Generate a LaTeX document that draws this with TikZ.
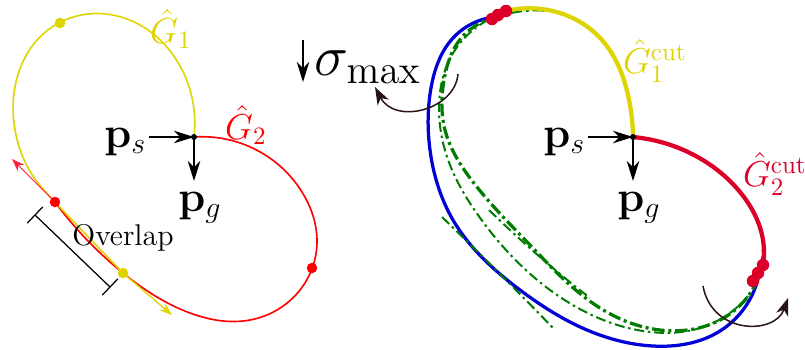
\RequirePackage{fix-cm}
\documentclass[tikz,border=0pt]{standalone}
\usetikzlibrary{arrows.meta,calc,hobby}
\definecolor{ylw}{RGB}{222,212,0}
\definecolor{rdl}{RGB}{255,0,0}
\definecolor{rdp}{RGB}{255,30,60}
\definecolor{crim}{RGB}{220,0,40}
\definecolor{blu}{RGB}{0,0,215}
\definecolor{grn}{RGB}{0,125,0}
\definecolor{drk}{RGB}{40,20,20}
\begin{document}
\begin{tikzpicture}[x=0.4pt,y=-0.4pt, use Hobby shortcut,
  arr/.style={-{Stealth[length=8pt,width=5pt,inset=2.5pt]}, line width=0.5pt},
  tharr/.style={-{Stealth[length=5pt,width=3.5pt,inset=1.5pt]}, line width=0.4pt},
  rotarr/.style={drk, line width=0.6pt, -{Stealth[length=7pt,width=5pt,inset=2pt]}},
  thin curve/.style={line width=0.65pt},
  thick curve/.style={line width=1.7pt},
  gthick/.style={grn, line width=1.3pt, dash pattern=on 5pt off 1.5pt on 1.2pt off 1.5pt},
  gthin/.style={grn, line width=0.8pt, dash pattern=on 4pt off 1.5pt on 1pt off 1.5pt},
  lab/.style={inner sep=0pt}]
\useasboundingbox (0,0) rectangle (805,349);

% ---------------- left figure ----------------
\coordinate (jL) at (194,137);
\coordinate (ovA) at (55,202);
\coordinate (ovB) at (123,273);
\coordinate (redTip) at (12,159);
\coordinate (ylwTip) at (172,315);

\draw[rdl, thin curve] (194,137) .. (262,153) .. (302,192) .. (317,242) .. (300,290) .. (250,320) .. (190,313) .. (123,273) .. (55,202);
\draw[ylw, thin curve] (194,137) .. (185,76) .. (140,25) .. (88,14) .. (42,35) .. (16,82) .. (16,135) .. (33,176) .. (55,202) .. (123,273);
\draw[rdp, tharr] (ovA) -- (redTip);
\draw[ylw, tharr, line width=0.55pt] (ovB) -- (ylwTip);

\fill[ylw] (60,23) circle (2.1pt);
\fill[rdl] (ovA) circle (2.1pt);
\fill[ylw] (ovB) circle (2.1pt);
\fill[rdl] (312,268) circle (2.1pt);

% overlap bracket
\coordinate (brA) at (35,215);
\coordinate (brB) at (110,287);
\draw[line width=0.5pt] (brA) -- (brB);
\draw[line width=0.5pt] ($(brA)!4.5pt!90:(brB)$) -- ($(brA)!4.5pt!-90:(brB)$);
\draw[line width=0.5pt] ($(brB)!4.5pt!90:(brA)$) -- ($(brB)!4.5pt!-90:(brA)$);
\node[lab, font=\large] (ovl) at (123,238) {Overlap};

\node[lab, text=ylw, font=\Large] (g1) at (171,29) {$\hat{G}_1$};
\node[lab, text=rdl, font=\Large] (g2) at (246,125) {$\hat{G}_2$};

\node[lab, anchor=base east, font=\LARGE] (psL) at (147,147) {$\mathbf{p}_s$};
\node[lab, anchor=base, font=\LARGE] (pgL) at (200,211) {$\mathbf{p}_g$};
\coordinate (psLs) at (149,137);
\coordinate (pgLtip) at (194,181);
\draw[arr] (psLs) -- (jL);
\draw[arr] (jL) -- (pgLtip);
\fill (jL) circle (1.2pt);

% ---------------- right figure ----------------
\coordinate (jR) at (633,137);
\coordinate (sgA) at (303,40);
\coordinate (sgB) at (303,82);
\draw[arr, line width=0.6pt] (sgA) -- (sgB);
\node[lab, anchor=base west, font=\fontsize{23}{28}\selectfont] (sig) at (314,75) {$\sigma_{\max}$};

% blue curve
\draw[blu, line width=1.3pt] (494,17) .. (453,38) .. (431,88) .. (430,150) .. (453,220) .. (520,290) .. (587,330) .. (653,346) .. (720,331) .. (760,268);

% green dash-dot curves
\draw[gthick] (545,10) .. (500,15) .. (463,36) .. (444,80) .. (445,130) .. (470,178) .. (530,245) .. (600,308) .. (660,330) .. (720,320) .. (755,285) .. (763,245);
\draw[gthin] (488,20) .. (452,55) .. (439,110) .. (450,165) .. (478,215) .. (560,297) .. (643,331) .. (700,328) .. (748,296);
\draw[gthin] (489,210) .. (540,257) .. (590,298);
\draw[gthin] (442,217) .. (500,274) .. (555,330);

% yellow / red thick
\draw[ylw, thick curve] (633,137) .. (628,95) .. (602,40) .. (560,13) .. (506,11);
\draw[crim, thick curve] (633,137) .. (690,153) .. (740,192) .. (763,240) .. (763,265);

\foreach \p in {(492,19),(498,15),(506,11),(763,265),(758,273),(753,281)}
  \fill[crim] \p circle (2.5pt);

\node[lab, anchor=base east, font=\LARGE] (psR) at (586,147) {$\mathbf{p}_s$};
\node[lab, anchor=base, font=\LARGE] (pgR) at (639,211) {$\mathbf{p}_g$};
\coordinate (psRs) at (588,137);
\coordinate (pgRtip) at (633,181);
\draw[arr] (psRs) -- (jR);
\draw[arr] (jR) -- (pgRtip);
\fill (jR) circle (1.2pt);

\node[lab, text=ylw, font=\Large] (g1c) at (655,61) {$\hat{G}_1^{\mathrm{cut}}$};
\node[lab, text=crim, font=\Large] (g2c) at (775,174) {$\hat{G}_2^{\mathrm{cut}}$};

% curved rotation arrows
\coordinate (caA) at (458,74);
\coordinate (caB) at (375,87);
\draw[rotarr] (caA) .. controls (455,110) and (395,125) .. (caB);
\coordinate (cbA) at (703,286);
\coordinate (cbB) at (788,298);
\draw[rotarr] (cbA) .. controls (712,335) and (775,335) .. (cbB);
\end{tikzpicture}
\end{document}
